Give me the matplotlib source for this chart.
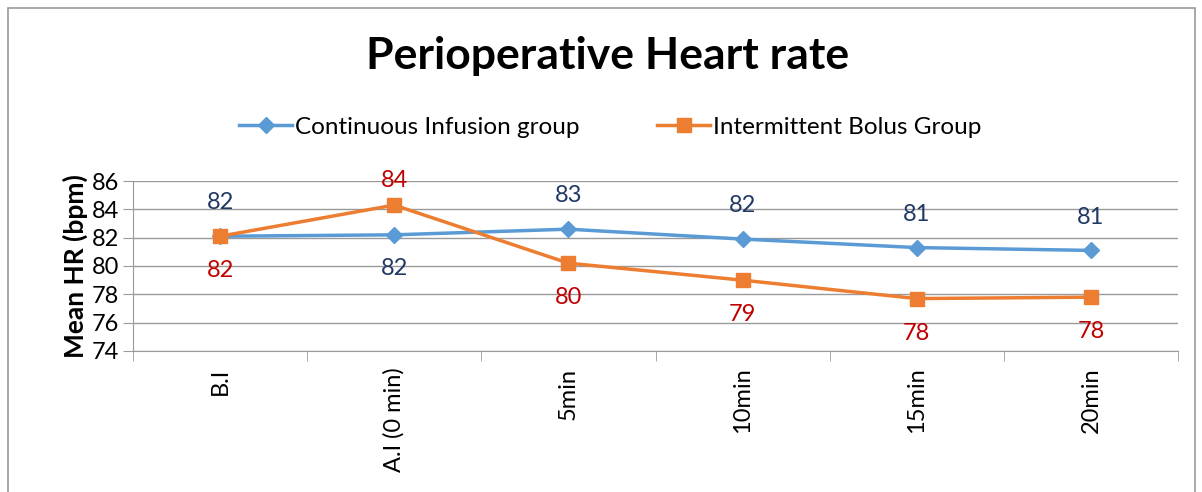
import matplotlib
matplotlib.use("Agg")
import matplotlib.pyplot as plt
from matplotlib.patches import Rectangle

categorias = ["B.I", "A.I (0 min)", "5min", "10min", "15min", "20min"]
continua = [82.1, 82.2, 82.6, 81.9, 81.3, 81.1]
bolo = [82.1, 84.3, 80.2, 79.0, 77.7, 77.8]
etiquetas_continua = ["82", "82", "83", "82", "81", "81"]
etiquetas_bolo = ["82", "84", "80", "79", "78", "78"]
# donde va cada etiqueta: 1 = arriba, -1 = abajo
pos_continua = [1, -1, 1, 1, 1, 1]
pos_bolo = [-1, 1, -1, -1, -1, -1]

plt.rcParams["font.family"] = ["Lato", "DejaVu Sans"]

fig = plt.figure(figsize=(12.02, 4.92), dpi=100)
ax = fig.add_axes([133 / 1202, 1 - 351 / 492, (1178 - 133) / 1202, (351 - 181) / 492])

# borde exterior del grafico
fig.patches.append(Rectangle((8 / 1202, -0.01), (1195 - 8) / 1202, 1.01 - 8 / 492,
                             transform=fig.transFigure, fill=False,
                             edgecolor="#9a9a9a", linewidth=1.2))

x = list(range(len(categorias)))
ax.plot(x, continua, color="#5B9BD5", linewidth=2.5, marker="D", markersize=8,
        label="Continuous Infusion group", zorder=3)
ax.plot(x, bolo, color="#ED7D31", linewidth=2.5, marker="s", markersize=10,
        label="Intermittent Bolus Group", zorder=4)

for i in x:
    ax.annotate(etiquetas_continua[i], (i, continua[i]),
                xytext=(0, 24 * pos_continua[i]), textcoords="offset points",
                ha="center", va="center", fontsize=17, color="#1F3864")
    ax.annotate(etiquetas_bolo[i], (i, bolo[i]),
                xytext=(0, (18 if pos_bolo[i] > 0 else 25) * pos_bolo[i]),
                textcoords="offset points",
                ha="center", va="center", fontsize=17, color="#C00000")

ax.set_xlim(-0.5, len(categorias) - 0.5)
ax.set_ylim(74, 86)
ax.set_yticks(range(74, 87, 2))
ax.set_xticks(x)
ax.set_xticklabels(categorias, rotation=90, fontsize=17)
ax.set_xticks([i - 0.5 for i in range(len(categorias) + 1)], minor=True)
ax.tick_params(axis="x", which="major", length=0, pad=12)
ax.tick_params(axis="x", which="minor", length=7, color="#9a9a9a")
ax.tick_params(axis="y", length=7, color="#9a9a9a", labelsize=17, pad=3)
ax.grid(axis="y", color="#9a9a9a", linewidth=1)
ax.set_axisbelow(True)
for s in ["top", "right"]:
    ax.spines[s].set_visible(False)
ax.spines["left"].set_color("#9a9a9a")
ax.spines["bottom"].set_color("#9a9a9a")
ax.set_ylabel("Mean HR (bpm)", fontsize=19, fontweight="bold", labelpad=3)

fig.text(608 / 1202, 1 - 56 / 492, "Perioperative Heart rate", ha="center", va="center",
         fontsize=32, fontweight="bold")
fig.legend(loc="center", bbox_to_anchor=(610 / 1202, 1 - 127 / 492), ncol=2,
           frameon=False, fontsize=17.5, handlelength=2.2, columnspacing=3.2,
           handletextpad=0.1)

fig.savefig("out.png", dpi=100)
